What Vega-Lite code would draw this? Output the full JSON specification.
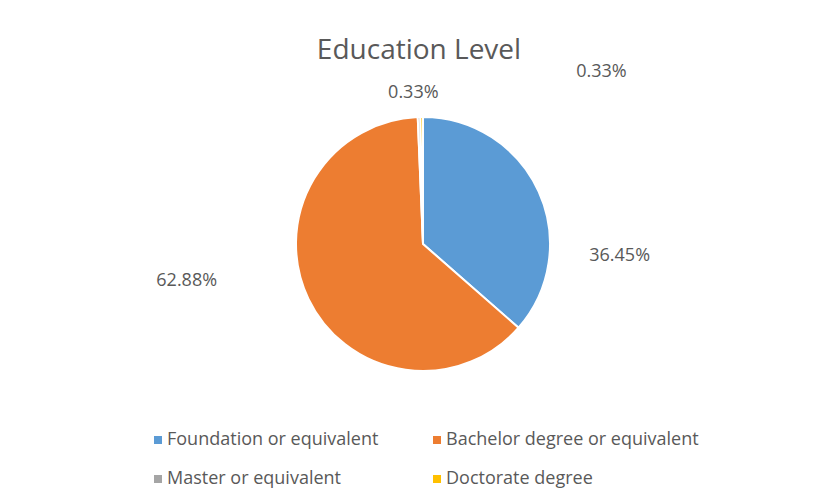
{
  "$schema": "https://vega.github.io/schema/vega-lite/v6.json",
  "width": 814,
  "height": 328,
  "autosize": {"type": "none"},
  "padding": {"left": 16, "top": 80, "right": 0, "bottom": 94},
  "background": "white",
  "title": {
    "text": "Education Level",
    "font": "Open Sans",
    "fontSize": 28,
    "fontWeight": "normal",
    "color": "#595959",
    "anchor": "middle",
    "dx": -4,
    "offset": -8
  },
  "config": {
    "view": {"stroke": null},
    "legend": {
      "labelFont": "Open Sans",
      "labelFontSize": 18,
      "labelColor": "#595959",
      "labelLimit": 400,
      "symbolType": "square",
      "symbolSize": 64,
      "symbolStrokeWidth": 0,
      "labelOffset": 0,
      "columnPadding": 49,
      "rowPadding": 21
    }
  },
  "data": {
    "values": [
      {"category": "Foundation or equivalent", "value": 36.45, "label": "36.45%", "order": 1},
      {"category": "Bachelor degree or equivalent", "value": 62.88, "label": "62.88%", "order": 2},
      {"category": "Master or equivalent", "value": 0.33, "label": "0.33%", "order": 3},
      {"category": "Doctorate degree", "value": 0.33, "label": "0.33%", "order": 4}
    ]
  },
  "encoding": {
    "theta": {"field": "value", "type": "quantitative", "stack": true},
    "order": {"field": "order", "type": "quantitative"}
  },
  "layer": [
    {
      "mark": {"type": "arc", "outerRadius": 127, "stroke": "white", "strokeWidth": 2},
      "encoding": {
        "color": {
          "field": "category",
          "type": "nominal",
          "scale": {
            "domain": ["Foundation or equivalent", "Bachelor degree or equivalent", "Master or equivalent", "Doctorate degree"],
            "range": ["#5B9BD5", "#ED7D31", "#A5A5A5", "#FFC000"]
          },
          "legend": {
            "title": null,
            "orient": "none",
            "direction": "horizontal",
            "legendX": 133,
            "legendY": 351,
            "columns": 2
          }
        }
      }
    },
    {
      "mark": {"type": "text", "radius": 150, "dx": 60, "dy": 74, "font": "Open Sans", "fontSize": 18, "color": "#595959", "align": "center", "baseline": "middle"},
      "encoding": {
        "text": {"condition": {"test": "datum.category === 'Foundation or equivalent'", "field": "label"}, "value": ""}
      }
    },
    {
      "mark": {"type": "text", "radius": 150, "dx": -101, "dy": -28, "font": "Open Sans", "fontSize": 18, "color": "#595959", "align": "center", "baseline": "middle"},
      "encoding": {
        "text": {"condition": {"test": "datum.category === 'Bachelor degree or equivalent'", "field": "label"}, "value": ""}
      }
    },
    {
      "mark": {"type": "text", "radius": 150, "dx": -5, "dy": -1, "font": "Open Sans", "fontSize": 18, "color": "#595959", "align": "center", "baseline": "middle"},
      "encoding": {
        "text": {"condition": {"test": "datum.category === 'Master or equivalent'", "field": "label"}, "value": ""}
      }
    },
    {
      "mark": {"type": "text", "radius": 150, "dx": 180, "dy": -22, "font": "Open Sans", "fontSize": 18, "color": "#595959", "align": "center", "baseline": "middle"},
      "encoding": {
        "text": {"condition": {"test": "datum.category === 'Doctorate degree'", "field": "label"}, "value": ""}
      }
    }
  ]
}
